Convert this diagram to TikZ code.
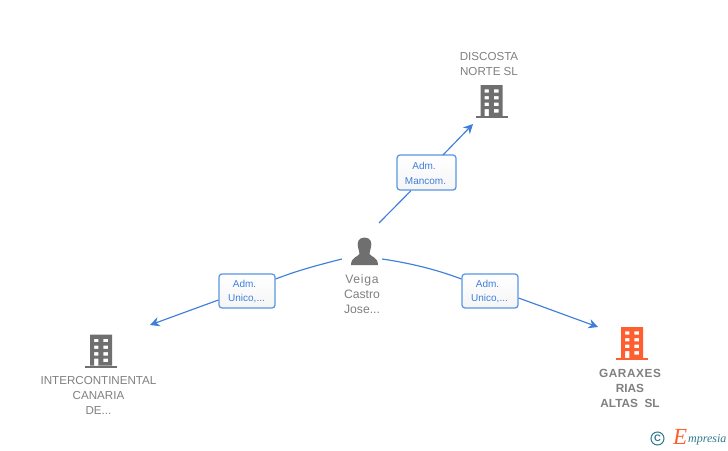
\documentclass[tikz,border=0pt]{standalone}
\usepackage{fontspec}
\setmainfont{Liberation Sans}
\newfontfamily\logofont{Liberation Serif}
\usetikzlibrary{arrows.meta}
\definecolor{edgeblue}{HTML}{3F7FDB}
\definecolor{boxblue}{HTML}{5A96E3}
\definecolor{labelblue}{HTML}{3F7FDB}
\definecolor{txtgray}{HTML}{808080}
\definecolor{icongray}{HTML}{6F6F6F}
\definecolor{iconorange}{HTML}{FF5F30}
\definecolor{logoteal}{HTML}{2F7A90}
\tikzset{
  x=1pt,y=-1pt,
  edge/.style={draw=edgeblue,line width=1.15pt},
  arrowedge/.style={edge,-{Stealth[length=9.5pt,width=9.5pt,inset=3pt]}},
  rolebox/.style={draw=boxblue,line width=1.25pt,rounded corners=3pt,top color=white,bottom color=black!4,inner sep=0pt},
  roletext/.style={text=labelblue,font=\fontsize{10}{11}\selectfont,align=center,inner sep=0pt},
  nametext/.style={text=txtgray,font=\fontsize{11.6}{15}\selectfont,align=center,inner sep=0pt},
  spacedname/.style={text=txtgray,font=\fontsize{12.2}{15}\selectfont,align=center,inner sep=0pt},
  boldname/.style={text=txtgray,font=\fontsize{11.8}{15}\bfseries\selectfont,align=center,inner sep=0pt},
  emptyicon/.style={minimum size=0pt,inner sep=0pt,outer sep=0pt}
}
% building icon: (#1,#2) = top-left of the 32x33 glyph, #3 = colour
\newcommand{\buildingicon}[3]{%
  \begin{scope}[shift={(#1,#2)}]
    \fill[#3,even odd rule] (5,0) rectangle (27,31)
      (9,4.3) rectangle (13.3,7.7) (18.3,4.3) rectangle (23,7.7)
      (9,11) rectangle (13.3,14.4) (18.3,11) rectangle (23,14.4)
      (9,17.7) rectangle (13.3,21) (18.3,17.7) rectangle (23,21)
      (9,24) rectangle (13.3,31) (18.3,24) rectangle (23,27.7);
    \fill[#3] (0,31) rectangle (32,33);
  \end{scope}}
\begin{document}
\begin{tikzpicture}
\useasboundingbox[fill=white] (0,0) rectangle (728,450);

% icons
\buildingicon{475.5}{85}{icongray}
\buildingicon{85}{334.5}{icongray}
\buildingicon{616}{327}{iconorange}
\fill[icongray] (364.5,237.5) .. controls (358,237.5) and (357,243) .. (358,247)
  .. controls (358.5,250) and (359.5,252) .. (359.5,254)
  .. controls (358.5,256.5) and (351,257) .. (351,265) -- (378,265)
  .. controls (378,257) and (370.5,256.5) .. (369.5,254)
  .. controls (369.5,252) and (370.5,250) .. (371,247)
  .. controls (372,243) and (371,237.5) .. (364.5,237.5) -- cycle;

% anchors on the icons
\node[emptyicon] (person) at (364.5,251) {};
\coordinate (pTop) at (379,223);
\coordinate (pLeft) at (342,259);
\coordinate (pRight) at (382,259);
\coordinate (discostaEnd) at (473,124);
\coordinate (interEnd) at (150,325);
\coordinate (garajesEnd) at (598,327);

% role boxes
\node[rolebox,minimum width=59pt,minimum height=35pt] (boxTop) at (426.5,172.5) {};
\node[rolebox,minimum width=56pt,minimum height=34pt] (boxLeft) at (247,291) {};
\node[rolebox,minimum width=56pt,minimum height=34pt] (boxRight) at (490,291) {};
\node[roletext] at (424,166) {Adm.};
\node[roletext] at (425.5,181) {Mancom.};
\node[roletext] at (244.5,284) {Adm.};
\node[roletext] at (246.5,299) {Unico,...};
\node[roletext] at (487.5,284) {Adm.};
\node[roletext] at (489.5,299) {Unico,...};

% connectors
\draw[edge] (pTop) -- (boxTop.south west -| 411,190);
\draw[arrowedge] (443,155) -- (discostaEnd);
\draw[edge] (pLeft) .. controls (318,265) and (296,271) .. (boxLeft.north east |- 275,279);
\draw[arrowedge] (boxLeft.west |- 219,300) -- (interEnd);
\draw[edge] (pRight) .. controls (410,263) and (438,270) .. (boxRight.north west |- 462,279);
\draw[arrowedge] (boxRight.east |- 518,298) -- (garajesEnd);

% names
\node[nametext] (discosta) at (489,64) {DISCOSTA\\NORTE SL};
\node[spacedname] (veiga) at (362,294) {\addfontfeature{LetterSpace=6}Veiga\\Castro\\Jose...};
\node[nametext] (inter) at (98.5,395.5) {INTERCONTINENTAL\\CANARIA\\DE...};
\node[boldname] (garajes) at (630,388) {\addfontfeature{LetterSpace=5}GARAXES\\RIAS\\ALTAS\ \ SL};

% logo
\node[draw=logoteal,line width=1pt,circle,minimum size=13pt,inner sep=0pt,text=logoteal,font=\fontsize{9.5}{9.5}\bfseries\selectfont] (copyr) at (657.5,438.5) {C};
\node[text=iconorange,font=\logofont\itshape\fontsize{23}{23}\selectfont,inner sep=0pt,anchor=base west] (logoe) at (673,444) {E};
\node[text=logoteal,font=\logofont\itshape\fontsize{12}{12}\selectfont,inner sep=0pt,anchor=base west] (logotxt) at (688,442) {mpresia};
\end{tikzpicture}
\end{document}
